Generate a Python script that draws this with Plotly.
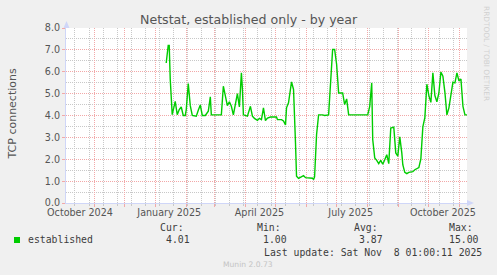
import plotly.graph_objects as go

# ---- data ----
dates = [
    "2025-01-12", "2025-01-14", "2025-01-15", "2025-01-16", "2025-01-18", "2025-01-21",
    "2025-01-23", "2025-01-25", "2025-01-27", "2025-01-29", "2025-01-31", "2025-02-01",
    "2025-02-03", "2025-02-05", "2025-02-07", "2025-02-11", "2025-02-13", "2025-02-15",
    "2025-02-17", "2025-02-20", "2025-02-23", "2025-02-25", "2025-02-26", "2025-03-08",
    "2025-03-10", "2025-03-12", "2025-03-14", "2025-03-16", "2025-03-18", "2025-03-20",
    "2025-03-22", "2025-03-24", "2025-03-26", "2025-03-28", "2025-03-29", "2025-03-30",
    "2025-04-03", "2025-04-06", "2025-04-08", "2025-04-10", "2025-04-13", "2025-04-15",
    "2025-04-17", "2025-04-19", "2025-04-21", "2025-04-23", "2025-04-26", "2025-04-28",
    "2025-05-02", "2025-05-03", "2025-05-07", "2025-05-09", "2025-05-11", "2025-05-12",
    "2025-05-14", "2025-05-17", "2025-05-19", "2025-05-21", "2025-05-22", "2025-05-24",
    "2025-05-27", "2025-05-29", "2025-05-31", "2025-06-04", "2025-06-07", "2025-06-08",
    "2025-06-09", "2025-06-11", "2025-06-13", "2025-06-17", "2025-06-19", "2025-06-23",
    "2025-06-25", "2025-06-27", "2025-06-29", "2025-07-01", "2025-07-03", "2025-07-07",
    "2025-07-09", "2025-07-11", "2025-07-13", "2025-08-01", "2025-08-03", "2025-08-05",
    "2025-08-06", "2025-08-08", "2025-08-10", "2025-08-12", "2025-08-14", "2025-08-16",
    "2025-08-18", "2025-08-20", "2025-08-22", "2025-08-24", "2025-08-27", "2025-08-29",
    "2025-08-31", "2025-09-02", "2025-09-04", "2025-09-05", "2025-09-07", "2025-09-09",
    "2025-09-11", "2025-09-13", "2025-09-15", "2025-09-17", "2025-09-19", "2025-09-21",
    "2025-09-23", "2025-09-25", "2025-09-27", "2025-09-29", "2025-10-01", "2025-10-03",
    "2025-10-05", "2025-10-07", "2025-10-09", "2025-10-11", "2025-10-13", "2025-10-15",
    "2025-10-17", "2025-10-19", "2025-10-21", "2025-10-23", "2025-10-25", "2025-10-27",
    "2025-10-29", "2025-10-31", "2025-11-02", "2025-11-04", "2025-11-06", "2025-11-08",
]
established = [
    6.40, 7.20, 7.20, 5.67, 4.04, 4.65,
    4.04, 4.27, 4.39, 4.00, 4.00, 4.27,
    5.46, 4.45, 4.00, 3.97, 4.24, 4.48,
    4.00, 4.00, 4.20, 4.85, 4.03, 4.03,
    5.34, 4.90, 4.45, 4.63, 4.42, 4.03,
    4.45, 5.00, 4.39, 5.95, 5.21, 4.03,
    3.97, 4.42, 3.97, 3.87, 3.78, 3.87,
    3.81, 4.35, 3.77, 3.88, 3.93, 3.92,
    3.93, 3.81, 3.81, 3.75, 3.57, 4.35,
    4.58, 5.54, 5.19, 2.70, 1.22, 1.13,
    1.19, 1.25, 1.16, 1.13, 1.13, 1.07,
    1.19, 3.13, 4.03, 4.03, 4.00, 4.03,
    5.67, 7.02, 7.02, 6.33, 5.03, 5.03,
    4.50, 4.76, 4.03, 4.03, 4.42, 5.49,
    2.90, 2.06, 1.95, 1.80, 1.95, 1.77,
    1.98, 2.21, 1.80, 3.43, 3.47, 2.29,
    2.14, 3.02, 2.29, 1.75, 1.40, 1.34,
    1.40, 1.43, 1.43, 1.52, 1.59, 1.62,
    2.01, 3.48, 3.90, 5.43, 4.91, 4.60,
    5.95, 4.91, 4.63, 5.03, 5.98, 5.80,
    5.06, 4.03, 4.35, 5.03, 5.52, 5.49,
    5.95, 5.58, 5.67, 4.42, 4.03, 4.03,
]
x_range = ["2024-10-04 01:00", "2025-11-08 01:00"]
month_starts = ["2024-11-01", "2024-12-01", "2025-01-01", "2025-02-01", "2025-03-01",
                "2025-04-01", "2025-05-01", "2025-06-01", "2025-07-01", "2025-08-01",
                "2025-09-01", "2025-10-01", "2025-11-01"]
label_dates = ["2024-10-18", "2025-01-15", "2025-04-15", "2025-07-15", "2025-10-15"]
label_text = ["October 2024", "January 2025", "April 2025", "July 2025", "October 2025"]
y_ticks = [0, 1, 2, 3, 4, 5, 6, 7, 8]
stats_labels = ["Cur:", "Min:", "Avg:", "Max:"]
stats_values = ["4.01", "1.00", "3.87", "15.00"]

# ---- layout helpers (pixel -> paper) ----
W, H = 497, 275
L, R, T, B = 66, 467, 28, 203
def PX(x):
    return (x - L) / (R - L)
def PY(y):
    return (B - y) / (B - T)

FONT = "DejaVu Sans"
MONO = "DejaVu Sans Mono"
TXT = "#555555"
LEG = "#3c3c3c"
RED = "#f2a8a8"
GRAY = "#c8c8c8"
AXIS = "#cfd6f8"
DOT = "1px,1px"
DAY_MS = 86400000

fig = go.Figure()
fig.add_trace(go.Scatter(x=dates, y=established, mode="lines",
                         line=dict(color="#00cc00", width=1.4),
                         showlegend=False, hoverinfo="skip"))
fig.add_trace(go.Scatter(x=[], y=[], xaxis="x2", showlegend=False))

fig.update_layout(
    width=W, height=H,
    margin=dict(l=L, r=W - R, t=T, b=H - B),
    paper_bgcolor="#f0f0f0", plot_bgcolor="#ffffff",
    xaxis=dict(type="date", range=x_range, tickmode="array", tickvals=month_starts,
               showticklabels=False, showgrid=True, gridcolor=RED, griddash=DOT,
               gridwidth=1, ticks="outside", ticklen=3, tickcolor=RED,
               showline=True, linecolor=AXIS, linewidth=1, zeroline=False,
               minor=dict(tick0="2024-10-13", dtick=14 * DAY_MS, showgrid=True,
                          gridcolor=GRAY, griddash=DOT, gridwidth=1,
                          ticks="outside", ticklen=2, tickcolor=GRAY)),
    xaxis2=dict(type="date", range=x_range, overlaying="x", anchor="y", side="bottom",
                tickmode="array", tickvals=label_dates, ticktext=label_text,
                showgrid=False, ticks="", showline=False, zeroline=False,
                ticklabelstandoff=2,
                tickfont=dict(family=FONT, size=9.6, color=TXT)),
    yaxis=dict(range=[0, 8], tickmode="array", tickvals=y_ticks, tickformat=".1f",
               showgrid=True, gridcolor=RED, griddash=DOT, gridwidth=1,
               ticks="outside", ticklen=3, tickcolor=RED,
               showline=True, linecolor=AXIS, linewidth=1, zeroline=False,
               tickfont=dict(family=FONT, size=9.6, color=TXT),
               minor=dict(dtick=0.5, showgrid=True, gridcolor=GRAY, griddash=DOT,
                          gridwidth=1)),
    showlegend=False,
)

ann = []
ann.append(dict(text="Netstat, established only - by year", x=PX(248.5), y=PY(19.5),
                xref="paper", yref="paper", xanchor="center", yanchor="middle",
                showarrow=False, font=dict(family=FONT, size=12.6, color=TXT)))
ann.append(dict(text="TCP connections", x=PX(11.5), y=PY(114), textangle=-90,
                xref="paper", yref="paper", xanchor="center", yanchor="middle",
                showarrow=False, font=dict(family=FONT, size=11, color=TXT)))
ann.append(dict(text="RRDTOOL / TOBI OETIKER", x=PX(487), y=PY(53), textangle=90,
                xref="paper", yref="paper", xanchor="center", yanchor="middle",
                showarrow=False, font=dict(family=FONT, size=7.4, color="#d0d0d0")))
ann.append(dict(text="established", x=PX(25.5), y=PY(239.5), xref="paper", yref="paper",
                xanchor="left", yanchor="middle", showarrow=False,
                font=dict(family=MONO, size=9.8, color=LEG)))
lab_x = [158, 255, 352, 447]
val_x = [164, 261, 357, 447]
for lx, vx, lt, vt in zip(lab_x, val_x, stats_labels, stats_values):
    ann.append(dict(text=lt, x=PX(lx), y=PY(227), xref="paper", yref="paper",
                    xanchor="left", yanchor="middle", showarrow=False,
                    font=dict(family=MONO, size=9.8, color=LEG)))
    ann.append(dict(text=vt, x=PX(vx), y=PY(239.5), xref="paper", yref="paper",
                    xanchor="left", yanchor="middle", showarrow=False,
                    font=dict(family=MONO, size=9.8, color=LEG)))
ann.append(dict(text="Last update: Sat Nov\u00a0\u00a08 01:00:11 2025", x=PX(262), y=PY(252),
                xref="paper", yref="paper", xanchor="left", yanchor="middle",
                showarrow=False, font=dict(family=MONO, size=9.8, color=LEG)))
ann.append(dict(text="Munin 2.0.73", x=PX(248), y=PY(264), xref="paper", yref="paper",
                xanchor="center", yanchor="middle", showarrow=False,
                font=dict(family=FONT, size=7.6, color="#c4c4c4")))
fig.update_layout(annotations=ann)

shapes = []
# legend colour box
shapes.append(dict(type="rect", xref="paper", yref="paper",
                   x0=PX(14), x1=PX(20), y0=PY(243), y1=PY(237),
                   fillcolor="#00cc00", line=dict(width=0)))
# axis arrows
shapes.append(dict(type="path", xref="paper", yref="paper",
                   path=f"M {PX(63.5)} {PY(28)} L {PX(69.5)} {PY(28)} L {PX(66.5)} {PY(21)} Z",
                   fillcolor=AXIS, line=dict(width=0)))
shapes.append(dict(type="path", xref="paper", yref="paper",
                   path=f"M {PX(467)} {PY(200)} L {PX(467)} {PY(206)} L {PX(474)} {PY(203)} Z",
                   fillcolor=AXIS, line=dict(width=0)))
fig.update_layout(shapes=shapes)

fig.write_html("out.html")
